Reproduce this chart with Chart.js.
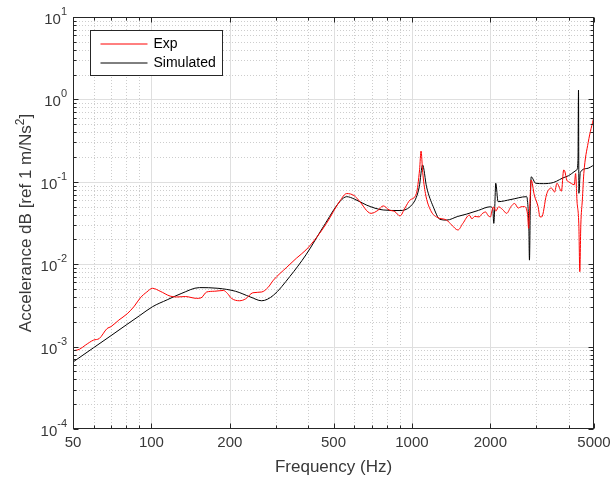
<!DOCTYPE html>
<html>
<head>
<meta charset="utf-8">
<script src="https://cdn.jsdelivr.net/npm/chart.js@4/dist/chart.umd.min.js"></script>
<style>
  html, body { margin: 0; padding: 0; background: #fff; }
  canvas { display: block; }
</style>
</head>
<body>
<canvas id="frf" width="614" height="483"></canvas>
<script>
// measured response (red)
const expFreq = [50, 53, 56, 60, 63, 67.5, 70, 75, 80.7, 86, 90.6, 96, 101, 108, 118, 125, 135, 149, 155, 163, 175, 189, 196, 203, 218, 230, 245, 265, 280, 294, 331, 360, 392, 430, 470, 530, 562, 600, 624, 697, 740, 776, 818, 860, 900, 940, 983, 1040, 1070, 1084, 1100, 1127, 1180, 1250, 1359, 1420, 1502, 1569, 1661, 1700, 1740, 1811, 1860, 1918, 1960, 2002, 2030, 2060, 2100, 2150, 2230, 2310, 2400, 2478, 2560, 2620, 2700, 2780, 2805, 2840, 2870, 2950, 3050, 3102, 3150, 3282, 3339, 3432, 3530, 3603, 3750, 3824, 3861, 3930, 4000, 4100, 4200, 4250, 4300, 4375, 4410, 4450, 4510, 4570, 4750, 5000];
const expVal = [8.9e-4, 9.3e-4, 1.05e-3, 1.2e-3, 1.25e-3, 1.65e-3, 1.75e-3, 2.1e-3, 2.5e-3, 3.1e-3, 3.9e-3, 4.6e-3, 5.1e-3, 4.7e-3, 4.1e-3, 4.0e-3, 4.05e-3, 3.85e-3, 3.9e-3, 4.6e-3, 4.7e-3, 4.8e-3, 4.4e-3, 3.85e-3, 3.6e-3, 3.8e-3, 4.5e-3, 4.6e-3, 5.2e-3, 6.4e-3, 9.2e-3, 0.0118, 0.0149, 0.021, 0.0313, 0.059, 0.072, 0.068, 0.06, 0.0414, 0.045, 0.051, 0.0455, 0.0435, 0.0385, 0.048, 0.06, 0.072, 0.14, 0.236, 0.13, 0.072, 0.045, 0.037, 0.0343, 0.03, 0.026, 0.0313, 0.0394, 0.0355, 0.038, 0.0375, 0.041, 0.043, 0.039, 0.0375, 0.045, 0.0497, 0.044, 0.0497, 0.046, 0.0414, 0.05, 0.0546, 0.048, 0.0497, 0.05, 0.04, 0.0272, 0.06, 0.105, 0.069, 0.05, 0.0375, 0.0375, 0.069, 0.079, 0.084, 0.075, 0.096, 0.077, 0.139, 0.135, 0.105, 0.1, 0.095, 0.092, 0.126, 0.06, 0.0285, 0.0081, 0.03, 0.06, 0.126, 0.3, 0.62];

// model response (black)
const simFreq = [50, 60, 70, 80, 90, 101, 115, 130, 153, 180, 210, 240, 265, 294, 340, 392, 457, 530, 562, 600, 671, 776, 900, 983, 1040, 1067, 1099, 1138, 1208, 1282, 1359, 1500, 1623, 1800, 1994, 2043, 2062, 2080, 2098, 2142, 2400, 2757, 2790, 2810, 2826, 2850, 2870, 2985, 3200, 3490, 3900, 4290, 4340, 4360, 4375, 4430, 4700, 5000];
const simVal = [6.5e-4, 9.7e-4, 1.36e-3, 1.83e-3, 2.37e-3, 3.05e-3, 3.7e-3, 4.4e-3, 5.2e-3, 5.1e-3, 4.7e-3, 4.0e-3, 3.6e-3, 4.2e-3, 7.1e-3, 0.013, 0.0285, 0.058, 0.066, 0.062, 0.052, 0.0455, 0.0448, 0.0497, 0.065, 0.087, 0.16, 0.087, 0.0497, 0.035, 0.0343, 0.038, 0.0406, 0.045, 0.0497, 0.0475, 0.0313, 0.05, 0.096, 0.0574, 0.061, 0.066, 0.0497, 0.03, 0.0112, 0.06, 0.115, 0.096, 0.095, 0.098, 0.115, 0.139, 0.183, 1.3, 0.0725, 0.13, 0.145, 0.16];

const xTicks = [50, 100, 200, 500, 1000, 2000, 5000];
const xMinor = [60, 70, 80, 90, 300, 400, 600, 700, 800, 900, 3000, 4000];
const yExponents = [1, 0, -1, -2, -3, -4];

const FONT = '"Liberation Sans", Arial, sans-serif';
const INK = '#262626';
const TEXT = '#383838';

function pairs(xs, ys) {
  return xs.map((x, i) => ({ x: x, y: ys[i] }));
}

// grid, box, ticks, labels and legend in the MATLAB look
const axesDecor = {
  id: 'axesDecor',
  beforeDatasetsDraw(chart) {
    const { ctx, chartArea: a, scales: { x, y } } = chart;
    ctx.save();
    ctx.lineWidth = 1;

    // minor grid, dotted
    ctx.strokeStyle = '#cdcdcd';
    ctx.setLineDash([1, 2]);
    xMinor.forEach(v => {
      const px = Math.round(x.getPixelForValue(v)) + 0.5;
      ctx.beginPath(); ctx.moveTo(px, a.top); ctx.lineTo(px, a.bottom); ctx.stroke();
    });
    for (let e = -4; e < 1; e++) {
      for (let m = 2; m <= 9; m++) {
        const py = Math.round(y.getPixelForValue(m * Math.pow(10, e))) + 0.5;
        ctx.beginPath(); ctx.moveTo(a.left, py); ctx.lineTo(a.right, py); ctx.stroke();
      }
    }

    // major grid, solid
    ctx.setLineDash([]);
    ctx.strokeStyle = '#dfdfdf';
    xTicks.slice(1, -1).forEach(v => {
      const px = Math.round(x.getPixelForValue(v)) + 0.5;
      ctx.beginPath(); ctx.moveTo(px, a.top); ctx.lineTo(px, a.bottom); ctx.stroke();
    });
    yExponents.slice(1, -1).forEach(e => {
      const py = Math.round(y.getPixelForValue(Math.pow(10, e))) + 0.5;
      ctx.beginPath(); ctx.moveTo(a.left, py); ctx.lineTo(a.right, py); ctx.stroke();
    });
    ctx.restore();
  },
  afterDatasetsDraw(chart) {
    const { ctx, chartArea: a, scales: { x, y } } = chart;
    const L = Math.round(a.left) + 0.5, R = Math.round(a.right) - 0.5;
    const T = Math.round(a.top) + 0.5, B = Math.round(a.bottom) - 0.5;
    ctx.save();
    ctx.strokeStyle = INK;
    ctx.lineWidth = 1;

    // tick marks pointing inward on all four sides
    const tickX = (v, len) => {
      const px = Math.round(x.getPixelForValue(v)) + 0.5;
      ctx.beginPath();
      ctx.moveTo(px, B); ctx.lineTo(px, B - len);
      ctx.moveTo(px, T); ctx.lineTo(px, T + len);
      ctx.stroke();
    };
    const tickY = (v, len) => {
      const py = Math.round(y.getPixelForValue(v)) + 0.5;
      ctx.beginPath();
      ctx.moveTo(L, py); ctx.lineTo(L + len, py);
      ctx.moveTo(R, py); ctx.lineTo(R - len, py);
      ctx.stroke();
    };
    xTicks.forEach(v => tickX(v, 5));
    xMinor.forEach(v => tickX(v, 3));
    yExponents.forEach(e => tickY(Math.pow(10, e), 5));
    for (let e = -4; e < 1; e++) {
      for (let m = 2; m <= 9; m++) tickY(m * Math.pow(10, e), 3);
    }

    // axes box
    ctx.strokeRect(L, T, R - L, B - T);

    // x tick labels
    ctx.fillStyle = TEXT;
    ctx.font = '15px ' + FONT;
    ctx.textAlign = 'center';
    ctx.textBaseline = 'alphabetic';
    xTicks.forEach(v => ctx.fillText(String(v), x.getPixelForValue(v), a.bottom + 18));

    // y tick labels: 10 with raised exponent
    yExponents.forEach(e => {
      const py = y.getPixelForValue(Math.pow(10, e));
      ctx.font = '11px ' + FONT;
      const ew = ctx.measureText(String(e)).width;
      ctx.textAlign = 'left';
      ctx.textBaseline = 'alphabetic';
      const right = a.left - 6;
      ctx.fillText(String(e), right - ew, py - 2);
      ctx.font = '15px ' + FONT;
      ctx.textAlign = 'right';
      ctx.fillText('10', right - ew, py + 7);
    });

    // axis titles
    ctx.font = '17px ' + FONT;
    ctx.textAlign = 'center';
    ctx.textBaseline = 'alphabetic';
    ctx.fillText('Frequency (Hz)', (a.left + a.right) / 2, 472);

    ctx.save();
    ctx.translate(31, (a.top + a.bottom) / 2);
    ctx.rotate(-Math.PI / 2);
    const main = 'Accelerance dB [ref 1 m/Ns';
    ctx.font = '17px ' + FONT;
    const mw = ctx.measureText(main).width;
    const bw = ctx.measureText(']').width;
    ctx.font = '12px ' + FONT;
    const sw = ctx.measureText('2').width;
    const sx = -(mw + sw + bw) / 2;
    ctx.textAlign = 'left';
    ctx.font = '17px ' + FONT;
    ctx.fillText(main, sx, 0);
    ctx.font = '12px ' + FONT;
    ctx.fillText('2', sx + mw, -7);
    ctx.font = '17px ' + FONT;
    ctx.fillText(']', sx + mw + sw, 0);
    ctx.restore();

    // legend
    const bx = 90.5, by = 30.5, bwid = 132, bh = 45;
    ctx.fillStyle = '#fff';
    ctx.fillRect(bx, by, bwid, bh);
    ctx.strokeStyle = INK;
    ctx.strokeRect(bx, by, bwid, bh);
    chart.data.datasets.forEach((ds, i) => {
      const ly = by + 13.5 + i * 19;
      ctx.strokeStyle = ds.borderColor;
      ctx.beginPath(); ctx.moveTo(bx + 10, ly); ctx.lineTo(bx + 57, ly); ctx.stroke();
      ctx.fillStyle = '#000';
      ctx.font = '14px ' + FONT;
      ctx.textAlign = 'left';
      ctx.textBaseline = 'middle';
      ctx.fillText(ds.label, bx + 63, ly + 0.5);
    });
    ctx.restore();
  }
};

new Chart(document.getElementById('frf').getContext('2d'), {
  type: 'line',
  data: {
    datasets: [
      {
        label: 'Exp',
        data: pairs(expFreq, expVal),
        borderColor: '#ff0000',
        borderWidth: 1,
        pointRadius: 0,
        cubicInterpolationMode: 'monotone'
      },
      {
        label: 'Simulated',
        data: pairs(simFreq, simVal),
        borderColor: '#000000',
        borderWidth: 1,
        pointRadius: 0,
        cubicInterpolationMode: 'monotone'
      }
    ]
  },
  options: {
    responsive: false,
    animation: false,
    layout: { padding: { left: 73, top: 17, right: 20, bottom: 54 } },
    plugins: { legend: { display: false }, tooltip: { enabled: false } },
    scales: {
      x: { type: 'logarithmic', min: 50, max: 5000, display: false },
      y: { type: 'logarithmic', min: 1e-4, max: 10, display: false }
    }
  },
  plugins: [axesDecor]
});
</script>
</body>
</html>
